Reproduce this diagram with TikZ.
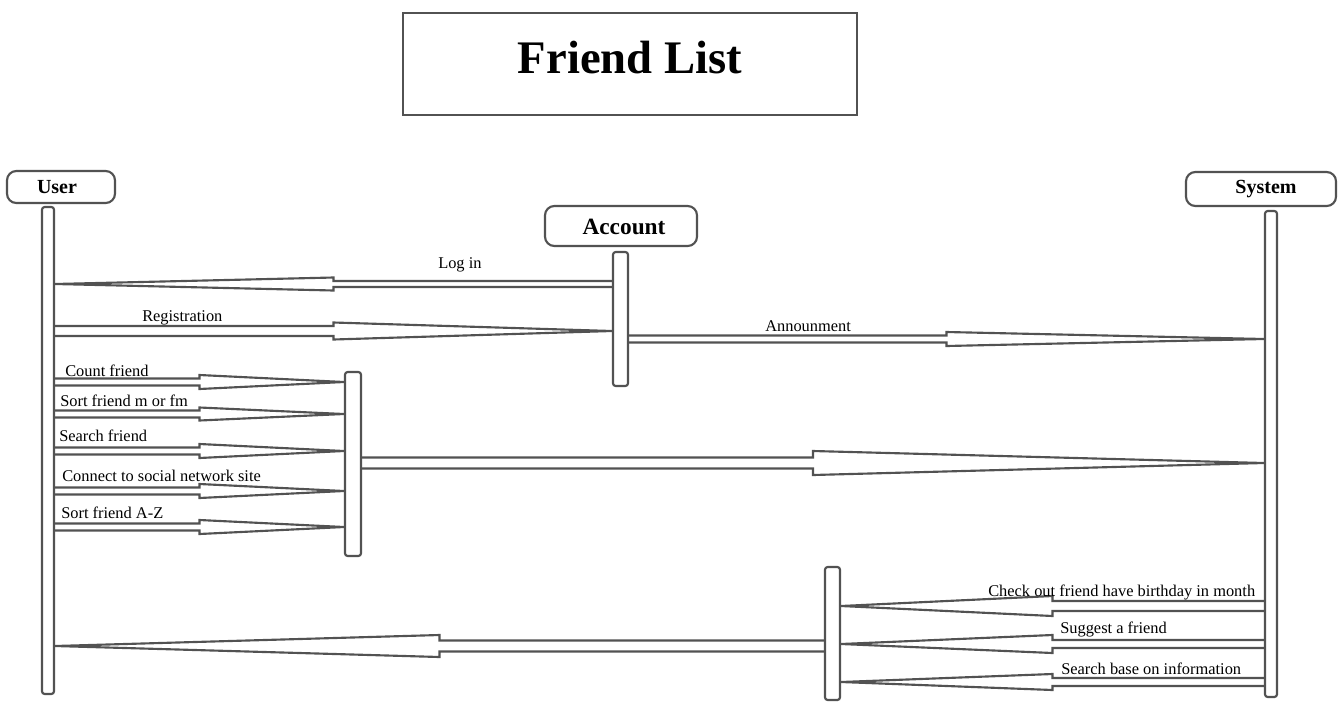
\documentclass[tikz,border=0pt]{standalone}
\usepackage{fontspec}
\setmainfont{Liberation Serif}
\usetikzlibrary{calc,fit}
\begin{document}
\begin{tikzpicture}[x=0.75pt,y=-0.75pt,
  line/.style={draw=black!68, line width=1.6pt},
  headbox/.style={line, rounded corners=7pt, inner sep=0pt, fill=white},
  bar/.style={line, rounded corners=2pt, inner sep=0pt, fill=white},
  lbl/.style={anchor=base west, inner sep=0pt, font=\fontsize{12.3}{14}\selectfont},
  hdr/.style={inner sep=0pt, font=\bfseries\fontsize{15}{17}\selectfont},
  bandhalf/.store in=\bandhalf, bandhalf=3.5,
  headhalf/.store in=\headhalf, headhalf=7,
  blockto/.style={line, to path={let \p1=(\tikztostart), \p2=(\tikztotarget), \p3=($(\tikztostart)!0.5!(\tikztotarget)$) in
     (\x1,\y1+\bandhalf*0.75pt) -- (\x3,\y1+\bandhalf*0.75pt) -- (\x3,\y1+\headhalf*0.75pt) -- (\x2,\y1) -- (\x3,\y1-\headhalf*0.75pt) -- (\x3,\y1-\bandhalf*0.75pt) -- (\x1,\y1-\bandhalf*0.75pt)}}
]
\useasboundingbox (0,0) rectangle (1338,704);

% title
\node[line, line width=1.2pt, inner sep=0pt, fit={(403,13) (857,115)}] (title) {};
\node[inner sep=0pt, font=\bfseries\fontsize{35}{40}\selectfont] (titletext) at (630,58) {Friend List};

% headers
\node[headbox, fit={(7,171) (115,203)}] (userH) {};
\node[hdr] (userT) at (57,187) {User};
\node[headbox, fit={(545,206) (697,246)}] (accH) {};
\node[hdr, font=\bfseries\fontsize{17.5}{20}\selectfont] (accT) at (624,227) {Account};
\node[headbox, fit={(1186,172) (1336,206)}] (sysH) {};
\node[hdr] (sysT) at (1266,189) {System};

% lifelines / activation bars
\node[bar, fit={(42,207) (54,694)}] (userL) {};
\node[bar, fit={(1265,211) (1277,697)}] (sysL) {};
\node[bar, fit={(613,252) (628,386)}] (accL) {};
\node[bar, fit={(345,372) (361,556)}] (boxA) {};
\node[bar, fit={(825,567) (840,700)}] (boxB) {};

% messages
\draw[blockto, bandhalf=3, headhalf=6.5] (accL.west |- 0,284) to (userL.east |- 0,284);
\node[lbl] (l1) at (438,268) {Log in};

\draw[blockto, bandhalf=5, headhalf=8.5] (userL.east |- 0,331) to (accL.west |- 0,331);
\node[lbl] (l2) at (142,321) {Registration};

\draw[blockto, bandhalf=3.5, headhalf=7] (accL.east |- 0,339) to (sysL.west |- 0,339);
\node[lbl] (l3) at (765,331.5) {Announment};

\draw[blockto, bandhalf=3.5, headhalf=7] (userL.east |- 0,382) to (boxA.west |- 0,382);
\node[lbl] (l4) at (65,376) {Count friend};

\draw[blockto, bandhalf=3.5, headhalf=6.5] (userL.east |- 0,414) to (boxA.west |- 0,414);
\node[lbl] (l5) at (60,406.5) {Sort friend m or fm};

\draw[blockto, bandhalf=3.5, headhalf=7] (userL.east |- 0,451) to (boxA.west |- 0,451);
\node[lbl] (l6) at (59,441) {Search friend};

\draw[blockto, bandhalf=3.5, headhalf=7] (userL.east |- 0,491) to (boxA.west |- 0,491);
\node[lbl] (l7) at (62,481.5) {Connect to social network site};

\draw[blockto, bandhalf=3.5, headhalf=7] (userL.east |- 0,527) to (boxA.west |- 0,527);
\node[lbl] (l8) at (61,518) {Sort friend A-Z};

\draw[blockto, bandhalf=5.5, headhalf=12] (boxA.east |- 0,463) to (sysL.west |- 0,463);

\draw[blockto, bandhalf=5, headhalf=10] (sysL.west |- 0,606) to (boxB.east |- 0,606);
\node[lbl] (l9) at (988,596) {Check out friend have birthday in month};

\draw[blockto, bandhalf=4, headhalf=9] (sysL.west |- 0,644) to (boxB.east |- 0,644);
\node[lbl] (l10) at (1060,633.5) {Suggest a friend};

\draw[blockto, bandhalf=4, headhalf=8] (sysL.west |- 0,682) to (boxB.east |- 0,682);
\node[lbl] (l11) at (1061,674) {Search base on information};

\draw[blockto, bandhalf=5.5, headhalf=11] (boxB.west |- 0,646) to (userL.east |- 0,646);
\end{tikzpicture}
\end{document}
